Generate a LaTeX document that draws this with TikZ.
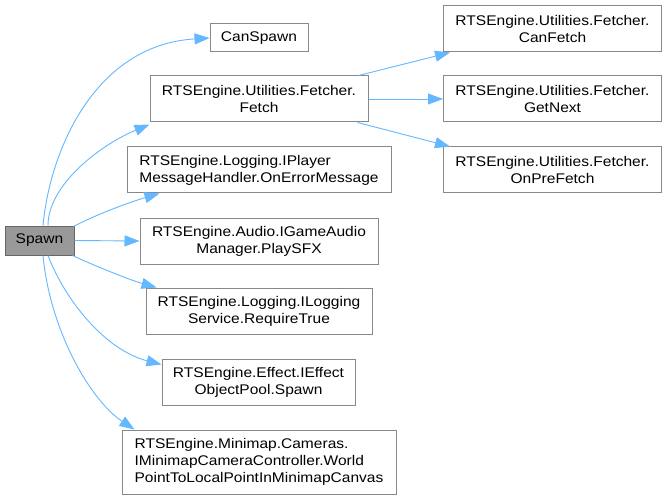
\documentclass[tikz,border=0pt]{standalone}
\usepackage{fontspec}
\newfontfamily\dfont{Liberation Sans}[FakeStretch=1.11]
\usetikzlibrary{arrows.meta}
\definecolor{edgeblue}{HTML}{63B8FF}
\definecolor{boxgray}{HTML}{888888}
\definecolor{rootfill}{HTML}{999999}
\definecolor{darkgray}{HTML}{666666}
\begin{document}
\begin{tikzpicture}[x=1pt,y=-1pt,
  box/.style={draw=boxgray, line width=1pt, fill=white, inner sep=0pt,
    font=\dfont\fontsize{14}{17}\selectfont, align=center, text=black},
  lbox/.style={box, align=left},
  rootbox/.style={box, fill=rootfill, draw=darkgray},
  edge/.style={draw=edgeblue, line width=0.9pt, -{Triangle[length=15pt,width=11pt]}}]
\useasboundingbox (0,0) rectangle (667,500);
\fill[white] (0,0) rectangle (667,500);

\node[rootbox, minimum width=69pt, minimum height=29pt] (spawn) at (39.5,240.5) {Spawn};
\node[box, minimum width=98pt, minimum height=28pt] (canspawn) at (259,38) {CanSpawn};
\node[box, minimum width=218pt, minimum height=46pt] (fetch) at (259,99) {RTSEngine.Utilities.Fetcher.\\Fetch};
\node[lbox, minimum width=264pt, minimum height=46pt] (onerror) at (259,170) {RTSEngine.Logging.IPlayer\\MessageHandler.OnErrorMessage};
\node[box, minimum width=238pt, minimum height=46pt] (playsfx) at (259,241) {RTSEngine.Audio.IGameAudio\\Manager.PlaySFX};
\node[box, minimum width=226pt, minimum height=46pt] (require) at (259,311) {RTSEngine.Logging.ILogging\\Service.RequireTrue};
\node[box, minimum width=193pt, minimum height=46pt] (effect) at (258.5,382) {RTSEngine.Effect.IEffect\\ObjectPool.Spawn};
\node[lbox, minimum width=274pt, minimum height=64pt] (minimap) at (259,462) {RTSEngine.Minimap.Cameras.\\IMinimapCameraController.World\\PointToLocalPointInMinimapCanvas};
\node[box, minimum width=218pt, minimum height=46pt] (canfetch) at (552.5,29) {RTSEngine.Utilities.Fetcher.\\CanFetch};
\node[box, minimum width=218pt, minimum height=46pt] (getnext) at (552.5,99) {RTSEngine.Utilities.Fetcher.\\GetNext};
\node[box, minimum width=218pt, minimum height=46pt] (onprefetch) at (552.5,170) {RTSEngine.Utilities.Fetcher.\\OnPreFetch};

\draw[edge] ([xshift=3.5pt]spawn.north) .. controls (50,150) and (95,45) .. (canspawn.west);
\draw[edge] ([xshift=8.5pt]spawn.north) .. controls (48,185) and (100,145) .. ([yshift=-2pt]fetch.south west);
\draw[edge] ([xshift=-1pt,yshift=-1pt]spawn.north east) .. controls (95,215) and (130,202) .. ([xshift=33pt]onerror.south west);
\draw[edge] (spawn.east) -- (playsfx.west);
\draw[edge] ([xshift=-2pt]spawn.south east) .. controls (95,266) and (130,280) .. ([xshift=11pt]require.north west);
\draw[edge] ([xshift=8.5pt]spawn.south) .. controls (65,300) and (105,350) .. ([yshift=-6pt]effect.north west);
\draw[edge] ([xshift=3.5pt]spawn.south) .. controls (50,330) and (90,400) .. ([xshift=13pt]minimap.north west);

\draw[edge] ([xshift=-10pt]fetch.north east) -- ([xshift=7pt]canfetch.south west);
\draw[edge] (fetch.east) -- (getnext.west);
\draw[edge] ([xshift=-11pt]fetch.south east) -- ([xshift=7pt]onprefetch.north west);
\end{tikzpicture}
\end{document}
